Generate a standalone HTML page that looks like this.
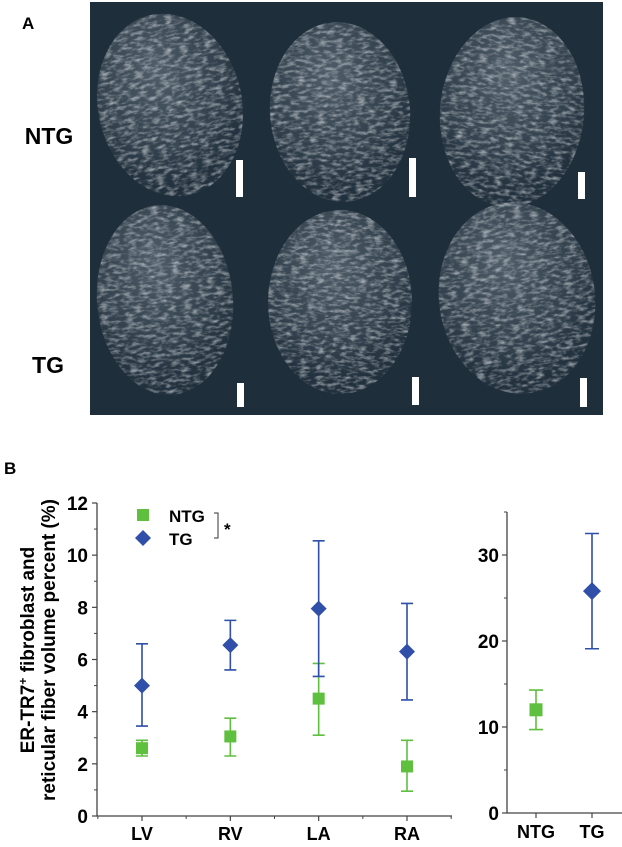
<!DOCTYPE html>
<html><head><meta charset="utf-8"><style>
html,body{margin:0;padding:0;background:#fff;}
body{width:622px;height:842px;overflow:hidden;font-family:"Liberation Sans",Arial,sans-serif;}
svg text{font-family:"Liberation Sans",Arial,sans-serif;font-weight:bold;}
</style></head><body>
<svg width="622" height="842" viewBox="0 0 622 842" xmlns="http://www.w3.org/2000/svg">
<defs>
<filter id="tex" x="0" y="0" width="100%" height="100%">
<feTurbulence type="fractalNoise" baseFrequency="0.12 0.3" numOctaves="3" seed="4" result="n"/>
<feColorMatrix in="n" type="matrix" values="0 0 0 0 0.85  0 0 0 0 0.88  0 0 0 0 0.9  0 0 0 1.8 -0.75" result="c"/>
<feComposite in="c" in2="SourceGraphic" operator="in"/>
</filter>
<radialGradient id="hg" cx="45%" cy="30%" r="65%">
<stop offset="0" stop-color="#8f9aa3" stop-opacity="0.45"/>
<stop offset="0.7" stop-color="#5d6b76" stop-opacity="0.3"/>
<stop offset="1" stop-color="#3d4b56" stop-opacity="0.1"/>
</radialGradient>
</defs>

<text x="22" y="29" font-size="17">A</text>
<g>
<rect x="90" y="2" width="513" height="413" fill="#1f2e3b"/>
<g id="hearts"></g>
</g>
<text x="49" y="144" font-size="23" text-anchor="middle">NTG</text>
<text x="48" y="373" font-size="23" text-anchor="middle">TG</text>

<text x="4" y="474" font-size="17">B</text>

<g transform="translate(28,650) rotate(-90)">
<text x="0" y="6" font-size="19" text-anchor="middle">ER-TR7<tspan dy="-7" font-size="12">+</tspan><tspan dy="7"> fibroblast and</tspan></text>
<text x="0" y="27" font-size="19" text-anchor="middle">reticular fiber volume percent (%)</text>
</g>

<g id="chart1"></g>
<g id="chart2"></g>

<g>
<rect x="137" y="509" width="12" height="12" fill="#5fbf3f"/>
<text x="169" y="522" font-size="17">NTG</text>
<polygon points="143,530 151,538 143,546 135,538" fill="#2f4fa8"/>
<text x="169" y="545" font-size="17">TG</text>
<path d="M214,513 H218 V538 H214" fill="none" stroke="#333" stroke-width="1"/>
<text x="224" y="535" font-size="17">*</text>
</g>
</svg>
<script>
const NS='http://www.w3.org/2000/svg';
function mk(tag,attrs,parent){const e=document.createElementNS(NS,tag);for(const k in attrs)e.setAttribute(k,attrs[k]);parent.appendChild(e);return e;}

// ---- hearts (images) ----
const hg=document.getElementById('hearts');
const hearts=[[170,105,72,92,-12],[340,112,70,90,-5],[512,112,72,95,5],[165,300,68,95,-5],[340,302,72,92,0],[517,298,78,96,-8]];
hearts.forEach(h=>{
  const g=mk('g',{transform:`rotate(${h[4]} ${h[0]} ${h[1]})`},hg);
  
  
  mk('ellipse',{cx:h[0],cy:h[1],rx:h[2],ry:h[3],fill:'url(#hg)'},g);
  mk('ellipse',{cx:h[0],cy:h[1],rx:h[2],ry:h[3],fill:'#fff',filter:'url(#tex)',opacity:0.7},g);
});
const bars=[[236,160,37],[409,158,39],[578,172,27],[237,383,24],[412,377,28],[580,378,29]];
bars.forEach(b=>{
  const r=mk('rect',{x:b[0],y:b[1],width:7,height:b[2],fill:'#fff'},hg);
  
  
});

// ---- chart 1 data ----
const categories=['LV','RV','LA','RA'];
const ntgMean=[2.6,3.05,4.5,1.9];
const ntgLow=[2.3,2.3,3.1,0.95];
const ntgHigh=[2.9,3.75,5.85,2.9];
const tgMean=[5.0,6.55,7.95,6.3];
const tgLow=[3.45,5.6,5.35,4.45];
const tgHigh=[6.6,7.5,10.55,8.15];
const yTicks1=[0,2,4,6,8,10,12];
// ---- chart 2 data ----
const groups=['NTG','TG'];
const totMean=[12,25.8];
const totLow=[9.7,19.1];
const totHigh=[14.3,32.5];
const yTicks2=[0,10,20,30];

const GREEN='#5fbf3f',BLUE='#2f4fa8',AX='#444';
function sq(g,x,y,s,c){const r=mk('rect',{x:x-s/2,y:y-s/2,width:s,height:s,fill:c},g);}
function dia(g,x,y,s,c){const p=mk('polygon',{points:`${x},${y-s} ${x+s},${y} ${x},${y+s} ${x-s},${y}`,fill:c},g);}
function err(g,x,y1,y2,c,w){const e=mk('path',{d:`M${x-w},${y1}H${x+w}M${x},${y1}V${y2}M${x-w},${y2}H${x+w}`,stroke:c,'stroke-width':1.6,fill:'none'},g);}

// chart 1
(function(){
  const g=document.getElementById('chart1');
  const x0=97,x1=452,yb=816,yt=503,ymax=12;
  const Y=v=>yb-(v/ymax)*(yb-yt);
  const xs=[142,230,319,407];
  const X=i=>xs[0]+i*(xs[3]-xs[0])/(categories.length-1);
  const a=mk('path',{d:`M${x0},${yt}V${yb}H${x1}`,stroke:AX,'stroke-width':1.3,fill:'none'},g);
  
  yTicks1.forEach(t=>{
    mk('line',{x1:x0-5,x2:x0,y1:Y(t),y2:Y(t),stroke:AX,'stroke-width':1.2},g);
    if(t<ymax) mk('line',{x1:x0-3,x2:x0,y1:Y(t+1),y2:Y(t+1),stroke:AX,'stroke-width':1},g);
    const tx=mk('text',{x:x0-9,y:Y(t)+7,'font-size':19,'text-anchor':'end'},g);tx.textContent=t;
    
  });
  const step=(X(1)-X(0));
  categories.forEach((c,i)=>{
    mk('line',{x1:X(i),x2:X(i),y1:yb,y2:yb+5,stroke:AX,'stroke-width':1.2},g);
    mk('line',{x1:X(i)+step/2,x2:X(i)+step/2,y1:yb,y2:yb+3,stroke:AX,'stroke-width':1},g);
    const tx=mk('text',{x:X(i),y:yb+24,'font-size':18,'text-anchor':'middle'},g);tx.textContent=c;
    
  });
  mk('line',{x1:X(0)-step/2,x2:X(0)-step/2,y1:yb,y2:yb+3,stroke:AX,'stroke-width':1},g);
  categories.forEach((c,i)=>{
    err(g,X(i),Y(ntgHigh[i]),Y(ntgLow[i]),GREEN,6);
    err(g,X(i),Y(tgHigh[i]),Y(tgLow[i]),BLUE,6);
    sq(g,X(i),Y(ntgMean[i]),12,GREEN);
    dia(g,X(i),Y(tgMean[i]),8,BLUE);
  });
})();

// chart 2
(function(){
  const g=document.getElementById('chart2');
  const x0=507,x1=622,yb=813,y30=555,ytop=512;
  const Y=v=>yb-(v/30)*(yb-y30);
  const xs=[536,592];
  const X=i=>xs[0]+i*(xs[1]-xs[0]);
  const a=mk('path',{d:`M${x0},${ytop}V${yb}H${x1}`,stroke:AX,'stroke-width':1.3,fill:'none'},g);
  
  yTicks2.forEach(t=>{
    mk('line',{x1:x0-5,x2:x0,y1:Y(t),y2:Y(t),stroke:AX,'stroke-width':1.2},g);
    mk('line',{x1:x0-3,x2:x0,y1:Y(t+5),y2:Y(t+5),stroke:AX,'stroke-width':1},g);
    const tx=mk('text',{x:x0-8,y:Y(t)+7,'font-size':19,'text-anchor':'end'},g);tx.textContent=t;
    
  });
  groups.forEach((c,i)=>{
    mk('line',{x1:X(i),x2:X(i),y1:yb,y2:yb+5,stroke:AX,'stroke-width':1.2},g);
    const tx=mk('text',{x:X(i),y:yb+25,'font-size':18,'text-anchor':'middle'},g);tx.textContent=c;
    
  });
  err(g,X(0),Y(totHigh[0]),Y(totLow[0]),GREEN,7);
  sq(g,X(0),Y(totMean[0]),13,GREEN);
  err(g,X(1),Y(totHigh[1]),Y(totLow[1]),BLUE,7);
  dia(g,X(1),Y(totMean[1]),9,BLUE);
})();
</script>
</body></html>
